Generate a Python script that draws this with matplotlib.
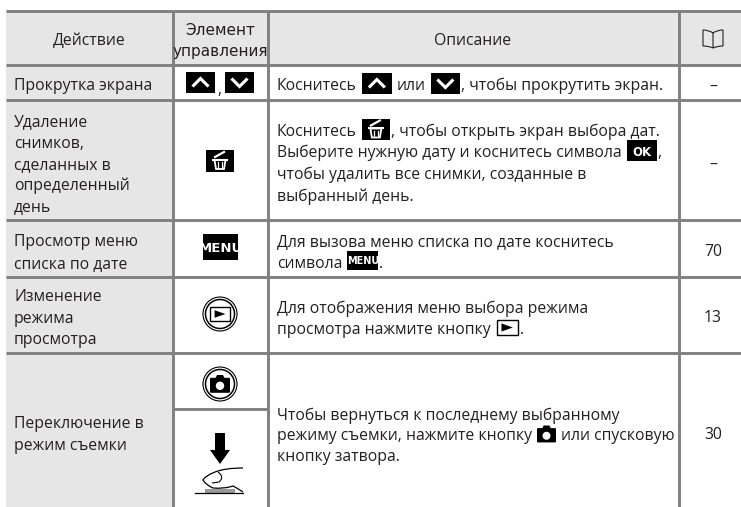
import matplotlib
matplotlib.use("Agg")
import matplotlib.pyplot as plt
from matplotlib.patches import Rectangle, Circle, Polygon, FancyBboxPatch, PathPatch
from matplotlib.path import Path

# table content
header_action = "Действие"
header_control = ["Элемент", "управления"]
header_desc = "Описание"

actions = [
    ["Прокрутка экрана"],
    ["Удаление", "снимков,", "сделанных в", "определенный", "день"],
    ["Просмотр меню", "списка по дате"],
    ["Изменение", "режима", "просмотра"],
    ["Переключение в", "режим съемки"],
]
pages = ["–", "–", "70", "13", "30"]

# description lines, a name starting with @ is an inline icon
descriptions = [
    [["Коснитесь", "@up", "или", "@down", ", чтобы прокрутить экран."]],
    [["Коснитесь", "@trash", ", чтобы открыть экран выбора дат."],
     ["Выберите нужную дату и коснитесь символа", "@ok", ","],
     ["чтобы удалить все снимки, созданные в"],
     ["выбранный день."]],
    [["Для вызова меню списка по дате коснитесь"],
     ["символа", "@menu", "."]],
    [["Для отображения меню выбора режима"],
     ["просмотра нажмите кнопку", "@play", "."]],
    [["Чтобы вернуться к последнему выбранному"],
     ["режиму съемки, нажмите кнопку", "@cam", "или спусковую"],
     ["кнопку затвора."]],
]

# layout, in pixels of the picture
h_lines = [10.5, 65, 100, 220, 277, 353]
v_lines = [172.5, 268, 679]
sub_line = 409
action_y = [[84], [120, 142, 163, 184, 205], [240, 262], [295, 317, 338], [422, 444]]
desc_y = [[84], [130, 151, 173, 195], [240, 262], [307, 328], [414, 434, 455]]
page_y = [85, 163, 250, 316, 433]
icon_w = {"@up": 30, "@down": 29, "@trash": 28, "@ok": 30, "@menu": 31, "@play": 23, "@cam": 19}

line_col = "#808080"
fill_col = "#e6e6e6"
text_col = "#231f20"
font = "Open Sans"
fs = 11.3

fig = plt.figure(figsize=(7.41, 5.07), dpi=100)
ax = fig.add_axes([0, 0, 1, 1])
ax.set_xlim(0, 741)
ax.set_ylim(507, 0)
ax.axis("off")


def txt(x, y, s, ha="left", **kw):
    kw.setdefault("family", font)
    kw.setdefault("fontsize", fs)
    kw.setdefault("color", text_col)
    return ax.text(x, y, s, ha=ha, va="center_baseline", **kw)


def black_box(x0, x1, y0, y1):
    ax.add_patch(Rectangle((x0, y0), x1 - x0, y1 - y0, fc="black", ec="none", zorder=3))


def chevron(x0, x1, y0, y1, up=True):
    cx = (x0 + x1) / 2
    cy = (y0 + y1) / 2
    d = 4 if up else -4
    black_box(x0, x1, y0, y1)
    ax.plot([cx - 8, cx, cx + 8], [cy + d, cy - d, cy + d], color="white", lw=2.2, zorder=4,
            solid_joinstyle="miter", solid_capstyle="butt")


def trash(x0, x1, y0, y1):
    cx = (x0 + x1) / 2
    cy = (y0 + y1) / 2
    black_box(x0, x1, y0, y1)
    ax.add_patch(Polygon([(cx - 5.5, cy - 1), (cx + 5.5, cy - 1), (cx + 4, cy + 8), (cx - 4, cy + 8)],
                         fc="black", ec="white", lw=1.3, zorder=4))
    ax.plot([cx - 7, cx + 7], [cy - 1.5, cy - 1.5], color="white", lw=1.5, zorder=4)
    ax.plot([cx - 5, cx + 4], [cy - 4, cy - 9], color="white", lw=1.6, zorder=4)
    ax.plot([cx - 1.8, cx - 1.8], [cy + 1, cy + 6.5], color="white", lw=0.9, zorder=4)
    ax.plot([cx + 1.8, cx + 1.8], [cy + 1, cy + 6.5], color="white", lw=0.9, zorder=4)


def word_box(x0, x1, y0, y1, s, size):
    black_box(x0, x1, y0, y1)
    txt((x0 + x1) / 2, (y0 + y1) / 2, s, ha="center", family="Liberation Sans Narrow",
        fontsize=size, color="white", fontweight="bold", zorder=4)


def play_frame(x0, x1, y0, y1):
    ax.add_patch(Rectangle((x0, y0), x1 - x0, y1 - y0, fc="white", ec="black", lw=1.0, zorder=3))
    cx = (x0 + x1) / 2
    cy = (y0 + y1) / 2
    w = (x1 - x0) * 0.27
    h = (y1 - y0) * 0.27
    ax.add_patch(Polygon([(cx - w, cy - h), (cx + w, cy), (cx - w, cy + h)], fc="black", ec="none", zorder=4))


def camera(cx, cy, s):
    # s is half of the body width
    ax.add_patch(FancyBboxPatch((cx - s + 1, cy - 0.62 * s), 2 * s - 2, 1.4 * s - 1,
                                boxstyle="round,pad=1", fc="black", ec="none", zorder=4))
    ax.add_patch(Polygon([(cx - 0.5 * s, cy - 0.6 * s), (cx - 0.3 * s, cy - s), (cx + 0.3 * s, cy - s),
                          (cx + 0.5 * s, cy - 0.6 * s)], fc="black", ec="none", zorder=4))
    ax.add_patch(Circle((cx, cy + 0.08 * s), 0.42 * s, fc="white", ec="none", zorder=5))


def ring(cx, cy):
    ax.add_patch(Circle((cx, cy), 17, fc="white", ec="black", lw=0.8, zorder=3))
    ax.add_patch(Circle((cx, cy), 14.5, fc="white", ec="black", lw=1.1, zorder=3))


def draw_icon(name, x, y):
    w = icon_w[name]
    if name == "@up":
        chevron(x, x + w, y - 11, y + 10, True)
    elif name == "@down":
        chevron(x, x + w, y - 11, y + 10, False)
    elif name == "@trash":
        trash(x, x + w, y - 11, y + 10)
    elif name == "@ok":
        word_box(x, x + w, y - 11, y + 10, "OK", 8.5)
    elif name == "@menu":
        word_box(x, x + w, y - 11, y + 8, "MENU", 7)
    elif name == "@play":
        play_frame(x + 1, x + w - 1, y - 8, y + 7)
    elif name == "@cam":
        camera(x + w / 2, y + 1, w / 2)


def draw_segments(x, y, segments):
    renderer = fig.canvas.get_renderer()
    for i, seg in enumerate(segments):
        if seg.startswith("@"):
            x += 5
            draw_icon(seg, x, y)
            x += icon_w[seg] + (5 if i + 1 < len(segments) and segments[i + 1][0] not in ",." else 1)
        else:
            t = txt(x, y, seg)
            x += t.get_window_extent(renderer).width


# fills
ax.add_patch(Rectangle((6, 10), 735, 55, fc=fill_col, ec="none", zorder=0))
ax.add_patch(Rectangle((6, 10), 166.5, 497, fc=fill_col, ec="none", zorder=0))

# grid lines
ax.hlines(h_lines, 6, 741, color=line_col, lw=2.1, zorder=1)
ax.hlines(sub_line, v_lines[0], v_lines[1], color=line_col, lw=2.1, zorder=1)
ax.vlines(v_lines, h_lines[0], 507, color=line_col, lw=2.1, zorder=1)

# header
txt(89, 39, header_action, ha="center")
txt(220, 29, header_control[0], ha="center", family="Liberation Sans Narrow", fontsize=11)
txt(220, 50, header_control[1], ha="center", family="Liberation Sans Narrow", fontsize=11)
txt(473, 39, header_desc, ha="center")

# book symbol in the header
book = Path([(713, 33), (709, 30), (703, 30), (703, 30), (703, 46), (703, 46), (709, 46), (713, 48),
             (717, 46), (723, 46), (723, 46), (723, 30), (723, 30), (717, 30), (713, 33), (713, 48)],
            [Path.MOVETO, Path.CURVE3, Path.CURVE3, Path.LINETO, Path.LINETO, Path.LINETO, Path.CURVE3, Path.CURVE3,
             Path.CURVE3, Path.CURVE3, Path.LINETO, Path.LINETO, Path.LINETO, Path.CURVE3, Path.CURVE3, Path.LINETO])
ax.add_patch(PathPatch(book, fc="none", ec="#222222", lw=0.8, zorder=3))

# body text
for lines, ys in zip(actions, action_y):
    for s, y in zip(lines, ys):
        txt(14, y, s)

for lines, ys in zip(descriptions, desc_y):
    for segs, y in zip(lines, ys):
        draw_segments(277, y, segs)

for p, y in zip(pages, page_y):
    txt(713, y, p, ha="center")

# control column
chevron(186, 215, 72, 93, True)
txt(219.5, 88, ",", ha="center")
chevron(225, 254, 72, 93, False)
trash(206, 234, 150, 172)
word_box(203, 238, 234, 260, "MENU", 9.5)

ring(220, 314)
play_frame(210, 230, 307, 321)

ring(220, 384)
camera(220, 385, 10)

# shutter button: arrow and finger
ax.add_patch(Polygon([(215, 433), (225, 433), (225, 450), (230, 450), (220, 464), (210, 450), (215, 450)],
                     fc="black", ec="none", zorder=3))
ax.add_patch(Rectangle((205, 489), 30, 3.5, fc="#999999", ec="none", zorder=3))
ax.plot([195, 243], [492.7, 492.7], color="black", lw=0.9, zorder=4)
finger = Path([(243, 468), (225, 468), (215, 472), (205, 476), (203, 480), (206, 485), (213, 488),
               (224, 489), (233, 486), (237, 488), (243, 492)],
              [Path.MOVETO, Path.CURVE3, Path.CURVE3, Path.CURVE3, Path.CURVE3, Path.CURVE3, Path.CURVE3,
               Path.CURVE3, Path.CURVE3, Path.CURVE3, Path.CURVE3])
ax.add_patch(PathPatch(finger, fc="none", ec="black", lw=0.9, zorder=4))
nail = Path([(218, 472), (225, 477), (219, 482), (212, 483)], [Path.MOVETO, Path.CURVE3, Path.CURVE3, Path.LINETO])
ax.add_patch(PathPatch(nail, fc="none", ec="black", lw=0.8, zorder=4))

fig.savefig("out.png", dpi=100)
